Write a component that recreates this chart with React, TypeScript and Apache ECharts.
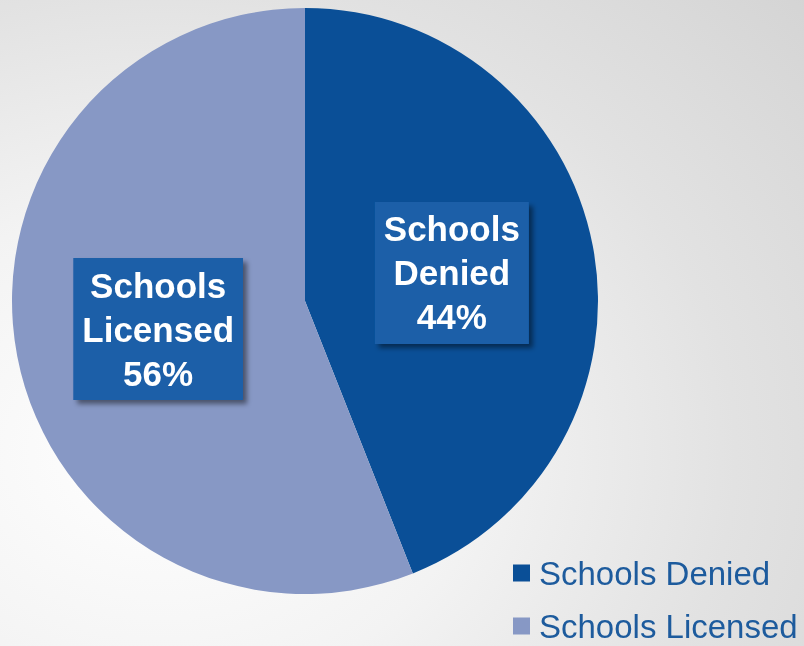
import React, { useEffect, useRef } from "react";
import * as echarts from "echarts";

const categories = ["Schools Denied", "Schools Licensed"];
const values = [44, 56];
const colors = ["#0a4f97", "#8798c5"];

export default function App() {
  const ref = useRef<HTMLDivElement>(null);
  useEffect(() => {
    if (!ref.current) return;
    const chart = echarts.init(ref.current, null, { renderer: "svg" });
    chart.setOption({
      animation: false,
      backgroundColor: "transparent",
      legend: {
        orient: "vertical",
        left: 508,
        top: 550,
        height: 96,
        padding: 5,
        itemWidth: 17,
        itemHeight: 17,
        itemGap: 17,
        icon: "rect",
        textStyle: {
          fontFamily: "Liberation Sans, Arial, sans-serif",
          fontSize: 33,
          lineHeight: 36,
          color: "#1d5b9d",
          padding: [0, 0, 0, 4],
        },
        data: categories,
      },
      series: [
        {
          type: "pie",
          center: [305, 301],
          radius: 293,
          startAngle: 90,
          clockwise: true,
          itemStyle: { borderWidth: 0 },
          label: {
            position: "inside",
            formatter: (p: any) => p.name.replace(" ", "\n") + "\n" + p.value + "%",
            color: "#ffffff",
            fontFamily: "Liberation Sans, Arial, sans-serif",
            fontWeight: "bold",
            fontSize: 35,
            lineHeight: 44,
            backgroundColor: "#1a5ea8",
            padding: [7, 9, 3, 9],
            shadowColor: "rgba(0,0,0,0.45)",
            shadowBlur: 5,
            shadowOffsetX: 4,
            shadowOffsetY: 4,
          },
          labelLine: { show: false },
          emphasis: { disabled: true },
          data: categories.map((c, i) => ({
            name: c,
            value: values[i],
            itemStyle: { color: colors[i] },
          })),
        },
      ],
    });
    return () => chart.dispose();
  }, []);
  return (
    <div
      style={{
        position: "fixed",
        left: 0,
        top: 0,
        width: 804,
        height: 646,
        background:
          "radial-gradient(ellipse 110% 110% at 20% 70%, #ffffff 0%, #f3f3f3 35%, #e2e2e2 65%, #d3d3d3 100%)",
      }}
    >
      <div ref={ref} style={{ width: 804, height: 646 }} />
    </div>
  );
}
